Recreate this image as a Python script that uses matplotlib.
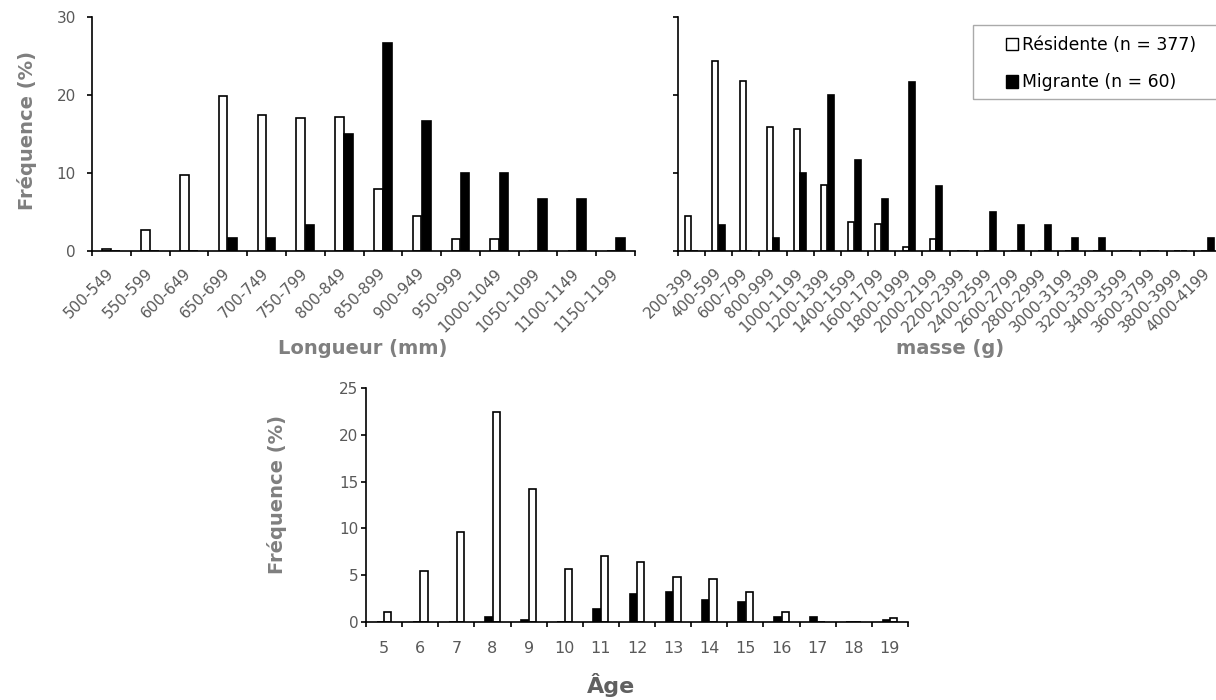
import matplotlib
matplotlib.use("Agg")
import matplotlib.pyplot as plt
from matplotlib.patches import Rectangle
import numpy as np

# ---------------- data ----------------
length_labels = ['500-549', '550-599', '600-649', '650-699', '700-749', '750-799',
                 '800-849', '850-899', '900-949', '950-999', '1000-1049', '1050-1099',
                 '1100-1149', '1150-1199']
length_res = [0.27, 2.65, 9.8, 19.9, 17.5, 17.0, 17.2, 8.0, 4.5, 1.6, 1.6, 0, 0, 0]
length_mig = [0, 0, 0, 1.7, 1.7, 3.3, 15.0, 26.7, 16.7, 10.0, 10.0, 6.7, 6.7, 1.7]

mass_labels = ['200-399', '400-599', '600-799', '800-999', '1000-1199', '1200-1399',
               '1400-1599', '1600-1799', '1800-1999', '2000-2199', '2200-2399',
               '2400-2599', '2600-2799', '2800-2999', '3000-3199', '3200-3399',
               '3400-3599', '3600-3799', '3800-3999', '4000-4199']
mass_res = [4.5, 24.4, 21.8, 15.9, 15.6, 8.5, 3.7, 3.4, 0.5, 1.6,
            0, 0, 0, 0, 0, 0, 0, 0, 0, 0]
mass_mig = [0, 3.3, 0, 1.7, 10.0, 20.0, 11.7, 6.7, 21.7, 8.3,
            0, 5.0, 3.3, 3.3, 1.7, 1.7, 0, 0, 0, 1.7]

age_labels = ['5', '6', '7', '8', '9', '10', '11', '12', '13', '14', '15',
              '16', '17', '18', '19']
age_res = [1.1, 5.5, 9.6, 22.4, 14.2, 5.7, 7.1, 6.4, 4.8, 4.6, 3.2, 1.1, 0, 0, 0.45]
age_mig = [0, 0, 0, 0.5, 0.25, 0, 1.4, 3.0, 3.2, 2.3, 2.1, 0.5, 0.5, 0, 0.25]

legend_labels = ['Résidente (n = 377)', 'Migrante (n = 60)']

# ---------------- style ----------------
plt.rcParams['font.family'] = ['DejaVu Sans']
TICK_C = '#595959'
LAB_C = '#7f7f7f'
W, H = 1216, 700
fig = plt.figure(figsize=(W / 100, H / 100), dpi=100)


def px_axes(left, right, top, bottom):
    return fig.add_axes([left / W, (H - bottom) / H, (right - left) / W, (bottom - top) / H])


def style_axes(ax, n, ymax, ystep, show_ylabels=True, ypad=8.0, lw=1.2):
    for s in ['top', 'right']:
        ax.spines[s].set_visible(False)
    for s in ['left', 'bottom']:
        ax.spines[s].set_linewidth(lw)
        ax.spines[s].set_color('black')
    ax.set_xlim(-0.5, n - 0.5)
    ax.set_ylim(0, ymax)
    ax.set_yticks(np.arange(0, ymax + 0.01, ystep))
    ax.tick_params(axis='y', which='major', direction='out', length=3.6, width=lw,
                   color='black', labelcolor=TICK_C, labelsize=11, pad=ypad,
                   labelleft=show_ylabels)
    ax.set_xticks(np.arange(n))
    ax.set_xticks(np.arange(n + 1) - 0.5, minor=True)
    ax.tick_params(axis='x', which='minor', direction='out', length=3.8, width=lw,
                   color='black')
    ax.set_facecolor('none')


bar_kw = dict(linewidth=1.2, edgecolor='black')

# ---- top-left: length ----
ax1 = px_axes(92, 635, 17, 251)
x = np.arange(len(length_labels))
w1 = 0.22
ax1.bar(x - 0.12, length_res, w1, color='white', **bar_kw)
ax1.bar(x + 0.12, length_mig, w1, color='black', **bar_kw)
style_axes(ax1, len(length_labels), 30, 10, ypad=8.0)
ax1.set_xticklabels(length_labels, rotation=45, ha='right', va='center',
                    rotation_mode='anchor')
ax1.tick_params(axis='x', which='major', length=0, pad=14.5, labelsize=11,
                labelcolor=TICK_C)

# ---- top-right: mass ----
ax2 = px_axes(678, 1221, 17, 251)
x = np.arange(len(mass_labels))
w2 = 0.22
ax2.bar(x - 0.12, mass_res, w2, color='white', **bar_kw)
ax2.bar(x + 0.12, mass_mig, w2, color='black', **bar_kw)
style_axes(ax2, len(mass_labels), 30, 10, show_ylabels=False)
ax2.set_xticklabels(mass_labels, rotation=45, ha='right', va='center',
                    rotation_mode='anchor')
ax2.tick_params(axis='x', which='major', length=0, pad=14.5, labelsize=11,
                labelcolor=TICK_C)

# ---- bottom: age ----
ax3 = px_axes(366, 908, 388, 622)
x = np.arange(len(age_labels))
w3 = 0.2
ax3.bar(x - 0.105, age_mig, w3, color='black', **bar_kw)
ax3.bar(x + 0.105, age_res, w3, color='white', **bar_kw)
style_axes(ax3, len(age_labels), 25, 5, ypad=1.8)
ax3.set_xticklabels(age_labels)
ax3.tick_params(axis='x', which='major', length=0, pad=13.5, labelsize=11.5,
                labelcolor=TICK_C)

# ---- axis titles ----
def ftext(xp, yp, s, **kw):
    fig.text(xp / W, 1 - yp / H, s, ha='center', va='center', **kw)

ftext(27, 130, 'Fréquence (%)', rotation=90, fontsize=14, fontweight='bold', color=LAB_C)
ftext(277, 495, 'Fréquence (%)', rotation=90, fontsize=14, fontweight='bold', color=LAB_C)
ftext(363, 348, 'Longueur (mm)', fontsize=14, fontweight='bold', color=LAB_C)
ftext(950, 348, 'masse (g)', fontsize=14, fontweight='bold', color=LAB_C)
ftext(611, 685, 'Âge', fontsize=16, fontweight='bold', color='#606060')

# ---- legend ----
fig.patches.append(Rectangle((973 / W, 1 - 99 / H), (1240 - 973) / W, 74 / H,
                             transform=fig.transFigure, fill=False,
                             edgecolor='#aaaaaa', linewidth=1.0))
h_res = Rectangle((0, 0), 1, 1, facecolor='white', edgecolor='black', linewidth=1.0)
h_mig = Rectangle((0, 0), 1, 1, facecolor='black', edgecolor='black', linewidth=1.0)
fig.legend([h_res, h_mig], legend_labels, loc='upper left',
           bbox_to_anchor=(1006 / W, 1 - 36 / H), frameon=False, borderpad=0,
           borderaxespad=0, handlelength=0.72, handleheight=0.72,
           handletextpad=0.18, labelspacing=1.13, prop={'size': 12.4})

fig.savefig('out.png', dpi=100)
